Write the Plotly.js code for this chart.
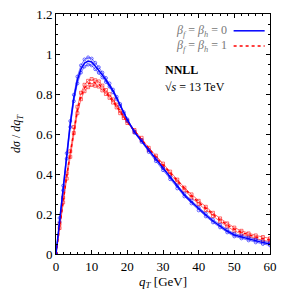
<!DOCTYPE html>
<html>
<head>
<meta charset="utf-8">
<script src="https://cdn.plot.ly/plotly-3.0.1.min.js"></script>
<style>html,body{margin:0;padding:0;background:#fff;}#chart{width:291px;height:291px;}</style>
</head>
<body>
<div id="chart"></div>
<script>
var qT = [0,1,2,3,4,5,6,7,8,9,10,11,12,13,14,15,16,17,18,19,20,22,24,26,28,30,32,34,36,38,40,42,44,46,48,50,52,54,56,58,60];
var blue = [0,0.17,0.33,0.49,0.65,0.78,0.87,0.925,0.955,0.965,0.96,0.94,0.92,0.895,0.87,0.845,0.815,0.78,0.745,0.705,0.67,0.61,0.565,0.515,0.47,0.425,0.38,0.335,0.295,0.26,0.225,0.195,0.165,0.14,0.115,0.095,0.085,0.075,0.065,0.057,0.05];
var blueErr = [0,0.01,0.012,0.014,0.015,0.016,0.017,0.018,0.018,0.018,0.017,0.016,0.014,0.012,0.01,0.008,0.007,0.006,0.005,0.004,0.004,0.004,0.005,0.005,0.006,0.006,0.006,0.007,0.007,0.007,0.007,0.007,0.007,0.007,0.007,0.007,0.007,0.007,0.007,0.007,0.007];
var red = [0,0.14,0.27,0.39,0.5,0.62,0.72,0.79,0.83,0.85,0.86,0.855,0.85,0.83,0.81,0.79,0.765,0.74,0.71,0.685,0.66,0.615,0.575,0.525,0.485,0.445,0.405,0.365,0.325,0.29,0.258,0.228,0.198,0.17,0.145,0.124,0.108,0.095,0.085,0.077,0.07];
var redErr = [0,0.01,0.012,0.013,0.014,0.015,0.016,0.016,0.016,0.016,0.015,0.014,0.013,0.012,0.01,0.009,0.008,0.007,0.006,0.005,0.005,0.005,0.006,0.006,0.007,0.007,0.007,0.007,0.007,0.008,0.008,0.008,0.008,0.008,0.008,0.008,0.008,0.008,0.008,0.008,0.008];
var legendLabels = ["<i>β<sub>f</sub></i> = <i>β<sub>h</sub></i> = 0", "<i>β<sub>f</sub></i> = <i>β<sub>h</sub></i> = 1"];

function add(a, b, s){ return a.map(function(v,i){ return v + s*b[i]; }); }

var serif = "Liberation Serif";
var traces = [];
function band(y, err, color, sym){
  [1,-1].forEach(function(s){
    traces.push({x: qT, y: add(y, err, s), mode: 'lines+markers', showlegend: false, hoverinfo: 'skip',
      line: {color: color, width: 0.8}, marker: {symbol: sym, size: 3, color: color, line: {width: 0.8, color: color}}});
  });
}
band(red, redErr, 'rgba(255,0,0,0.7)', 'square-open');
band(blue, blueErr, 'rgba(0,0,255,0.7)', 'circle-open');
traces.push({x: qT, y: red, mode: 'lines', name: legendLabels[1], line: {color: '#ff0000', width: 1.5, dash: 'dot'}, showlegend: false});
traces.push({x: qT, y: blue, mode: 'lines', name: legendLabels[0], line: {color: '#0000ff', width: 1.5}, showlegend: false});

var layout = {
  width: 291, height: 291,
  margin: {l: 56, r: 21, t: 14, b: 37},
  paper_bgcolor: '#fff', plot_bgcolor: '#fff',
  font: {family: serif, size: 13, color: '#000'},
  showlegend: false,
  xaxis: {range: [0, 60], dtick: 10, ticks: 'inside', ticklen: 4, tickwidth: 1, tickcolor: '#000',
    showline: true, linecolor: '#000', linewidth: 1, mirror: 'allticks', showgrid: false, zeroline: false,
    minor: {dtick: 2, ticks: 'inside', ticklen: 2, tickcolor: '#000', showgrid: false},
    tickfont: {family: serif, size: 13}, title: {text: '<i>q<sub>T</sub></i> [GeV]', font: {family: serif, size: 13}, standoff: 3}},
  yaxis: {range: [0, 1.2], dtick: 0.2, ticks: 'inside', ticklen: 4, tickwidth: 1, tickcolor: '#000',
    showline: true, linecolor: '#000', linewidth: 1, mirror: 'allticks', showgrid: false, zeroline: false,
    minor: {dtick: 0.05, ticks: 'inside', ticklen: 2, tickcolor: '#000', showgrid: false},
    tickvals: [0, 0.2, 0.4, 0.6, 0.8, 1, 1.2], ticktext: ['0', '0.2', '0.4', '0.6', '0.8', '1', '1.2'],
    tickfont: {family: serif, size: 13}, title: {text: '<i>dσ</i> / <i>dq<sub>T</sub></i>', font: {family: serif, size: 12}, standoff: 12}},
  annotations: [
    {xref: 'paper', yref: 'paper', x: 0.81, y: 0.93, xanchor: 'right', yanchor: 'middle', showarrow: false,
      text: legendLabels[0], font: {family: serif, size: 12, color: '#777'}},
    {xref: 'paper', yref: 'paper', x: 0.81, y: 0.867, xanchor: 'right', yanchor: 'middle', showarrow: false,
      text: legendLabels[1], font: {family: serif, size: 12, color: '#777'}},
    {xref: 'paper', yref: 'paper', x: 0.5, y: 0.765, xanchor: 'left', yanchor: 'middle', showarrow: false,
      text: '<b>NNLL</b>', font: {family: serif, size: 12, color: '#000'}},
    {xref: 'paper', yref: 'paper', x: 0.5, y: 0.695, xanchor: 'left', yanchor: 'middle', showarrow: false,
      text: '√<i>s</i> = 13 TeV', font: {family: serif, size: 12, color: '#000'}}
  ],
  shapes: [
    {type: 'line', xref: 'paper', yref: 'paper', x0: 0.83, x1: 0.975, y0: 0.93, y1: 0.93, line: {color: '#0000ff', width: 1.5}},
    {type: 'line', xref: 'paper', yref: 'paper', x0: 0.83, x1: 0.975, y0: 0.867, y1: 0.867, line: {color: '#ff0000', width: 1.5, dash: 'dot'}}
  ]
};
Plotly.newPlot('chart', traces, layout, {displayModeBar: false, staticPlot: true});
</script>
</body>
</html>
